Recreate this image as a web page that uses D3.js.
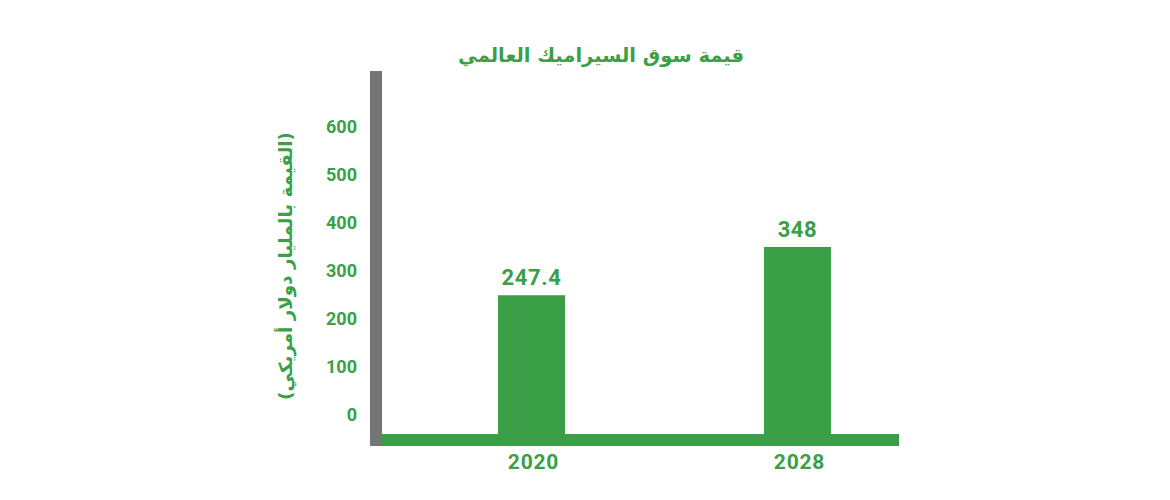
<!DOCTYPE html>
<html>
<head>
<meta charset="utf-8">
<script src="https://cdn.jsdelivr.net/npm/d3@7"></script>
<style>
  html, body { margin: 0; padding: 0; background: #ffffff; }
  svg { display: block; }
</style>
</head>
<body>
<svg id="chart" width="1170" height="500"></svg>
<script>
// ---- data ----
const title = "قيمة سوق السيراميك العالمي";
const yAxisTitle = "(القيمة بالمليار دولار أمريكي)";
const categories = ["2020", "2028"];
const values = [247.4, 348];
const valueLabels = ["247.4", "348"];
const yTicks = [0, 100, 200, 300, 400, 500, 600];

// ---- styles ----
const green = "#3a9f47";
const gray = "#757575";
const numFont = "Roboto, 'DejaVu Sans', sans-serif";
const arFont = "'DejaVu Sans', 'Noto Sans', sans-serif";

const svg = d3.select("#chart");

const y = d3.scaleLinear().domain([0, 600]).range([414, 126]);
const x = d3.scaleBand().domain(categories).range([498, 831]).paddingInner(0.748).paddingOuter(0);

const baseTop = 434, baseBottom = 446;
const axisLeft = 370, axisRight = 382, axisTop = 71, baseRight = 899;

// title
svg.append("text")
  .attr("x", 601).attr("y", 62)
  .attr("text-anchor", "middle")
  .attr("direction", "rtl")
  .style("font-family", arFont).style("font-weight", "bold").style("font-size", "19.5px")
  .attr("fill", green)
  .text(title);

// y-axis title
svg.append("text")
  .attr("transform", "translate(292,266) rotate(-90)")
  .attr("text-anchor", "middle")
  .style("font-family", arFont).style("font-weight", "bold").style("font-size", "18.3px")
  .attr("fill", green)
  .text(yAxisTitle);

// y axis ticks via d3 axis
const yAxis = d3.axisLeft(y).tickValues(yTicks).tickSize(0).tickPadding(0).tickFormat(d3.format("d"));
const gy = svg.append("g").attr("transform", "translate(357,0)").call(yAxis);
gy.select(".domain").remove();
gy.selectAll("text")
  .attr("fill", green)
  .attr("dy", "0.36em")
  .style("font-family", numFont).style("font-weight", "bold").style("font-size", "18px");

// bars
svg.append("g").selectAll("rect")
  .data(values)
  .join("rect")
  .attr("x", (d, i) => x(categories[i]))
  .attr("width", x.bandwidth())
  .attr("y", d => y(d))
  .attr("height", d => baseTop - y(d))
  .attr("fill", green);

// value labels
svg.append("g").selectAll("text")
  .data(values)
  .join("text")
  .attr("x", (d, i) => x(categories[i]) + x.bandwidth() / 2)
  .attr("y", d => y(d) - 10)
  .attr("text-anchor", "middle")
  .style("font-family", numFont).style("font-weight", "bold").style("font-size", "22px")
  .style("letter-spacing", "0.6px")
  .attr("fill", green)
  .text((d, i) => valueLabels[i]);

// base bar (x axis)
svg.append("rect")
  .attr("x", axisRight).attr("y", baseTop)
  .attr("width", baseRight - axisRight).attr("height", baseBottom - baseTop)
  .attr("fill", green);

// gray vertical axis bar
svg.append("rect")
  .attr("x", axisLeft).attr("y", axisTop)
  .attr("width", axisRight - axisLeft).attr("height", baseBottom - axisTop)
  .attr("fill", gray);

// x axis labels via d3 axis
const xAxis = d3.axisBottom(x).tickSize(0).tickPadding(0);
const gx = svg.append("g").attr("transform", "translate(2,469)").call(xAxis);
gx.select(".domain").remove();
gx.selectAll("text")
  .attr("fill", green)
  .attr("dy", 0)
  .style("font-family", numFont).style("font-weight", "bold").style("font-size", "21px")
  .style("letter-spacing", "0.8px");
</script>
</body>
</html>
